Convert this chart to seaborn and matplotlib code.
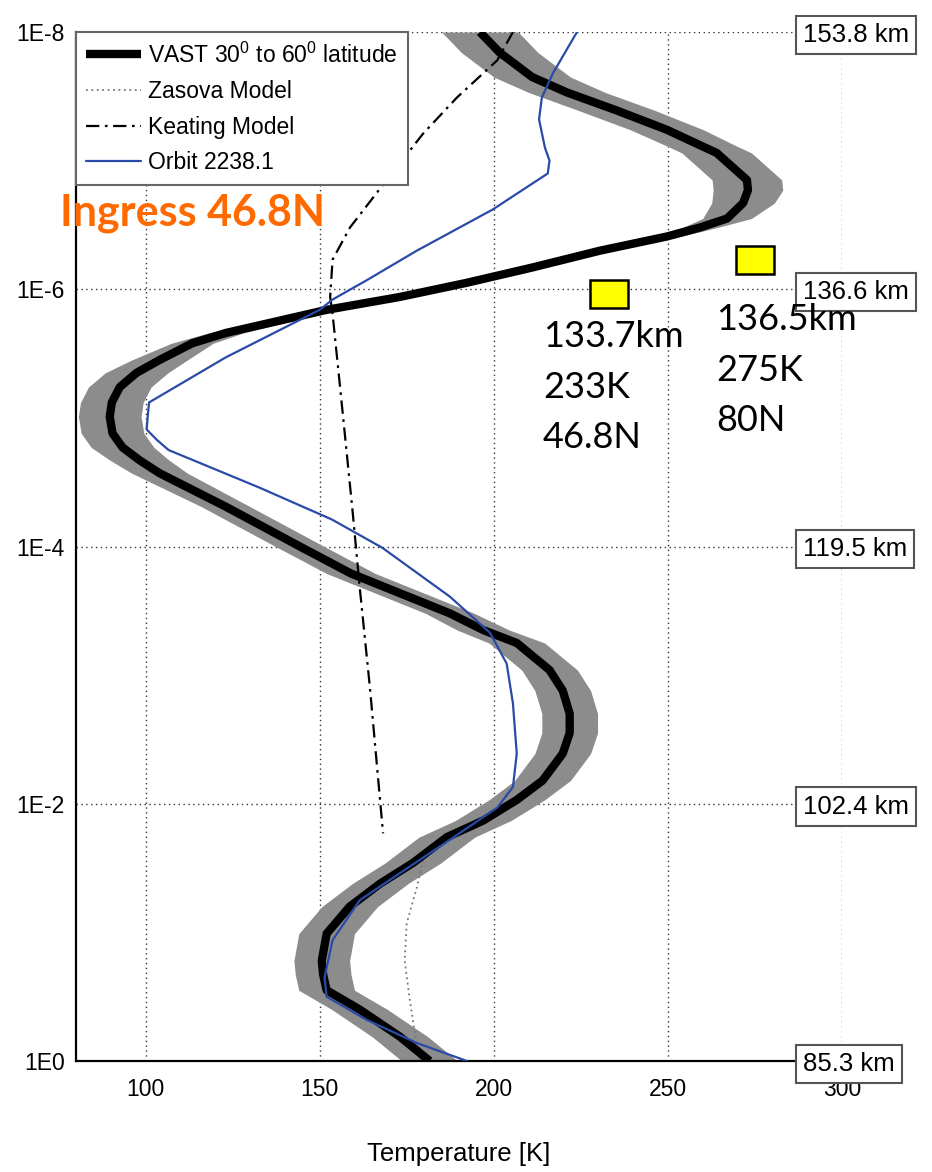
import matplotlib
matplotlib.use("Agg")
import numpy as np
import matplotlib.pyplot as plt
import seaborn as sns
from matplotlib.patches import Rectangle
from matplotlib.transforms import offset_copy

# VAST mean profile (30-60 deg latitude): log10 pressure, temperature [K], 1-sigma spread [K]
vast_logp = [-8.00, -7.84, -7.65, -7.53, -7.39, -7.24, -7.12, -7.06, -6.85, -6.77,
             -6.67, -6.55, -6.48, -6.41, -6.30, -6.17, -6.05, -5.94, -5.84, -5.66,
             -5.58, -5.45, -5.35, -5.24, -5.12, -5.01, -4.88, -4.77, -4.67, -4.57,
             -4.31, -4.15, -3.99, -3.79, -3.48, -3.35, -3.25, -3.04, -2.88, -2.70,
             -2.55, -2.39, -2.18, -2.03, -1.87, -1.74, -1.54, -1.38, -1.20, -0.99,
             -0.78, -0.67, -0.55, -0.40, -0.19, 0.00]
vast_temp = [196, 201.7, 211, 221, 235.3, 249.7, 259.2, 264, 272.7, 273,
             271.6, 267, 259.2, 249.7, 230.5, 211.2, 192.2, 173, 152, 123,
             113.4, 104, 97.4, 92.6, 90.3, 89.7, 90.5, 93.4, 98.3, 104,
             123, 134, 145, 159, 187.4, 197, 206.6, 216, 219.8, 221.8,
             221.8, 219.8, 214, 206.6, 197, 186.5, 176.8, 167.4, 158.6, 152,
             150.6, 151, 152, 161.5, 173, 181.6]
vast_sigma = [11, 11, 11, 11, 11, 10.5, 10, 10, 10, 10,
              9, 7, 5, 4, 3, 3, 3, 3, 3, 5,
              6, 8, 9, 9, 9, 9, 9, 9, 8.5, 8,
              7, 7, 7, 7, 7, 7.5, 8, 8, 8, 8,
              8, 8, 8, 8, 8, 8, 8, 8, 8, 8,
              8, 8, 8, 8, 8, 8]

# Orbit 2238.1 retrieval
orbit_logp = [-8.00, -7.68, -7.49, -7.32, -7.10, -7.00, -6.90, -6.62, -6.30, -6.07,
              -5.92, -5.84, -5.47, -5.12, -5.01, -4.91, -4.83, -4.75, -4.46, -4.21,
              -3.99, -3.61, -3.33, -3.09, -2.78, -2.39, -2.13, -1.97, -1.72, -1.46,
              -1.25, -0.94, -0.65, -0.50, -0.32, -0.14, 0.00]
orbit_temp = [223.9, 217, 213.8, 213, 214.7, 216, 215.5, 199.7, 177.9, 163.5,
              153.7, 150, 123, 101, 100.6, 100.3, 103.2, 106.6, 132.5, 153.5,
              168, 187.4, 198.9, 203.7, 205.5, 206.6, 205.5, 201, 187.4, 173,
              161.5, 153.7, 151.4, 152, 163.5, 177.9, 192.3]

# Keating model
keating_logp = [-8.0, -7.78, -7.49, -7.21, -6.75, -6.48, -6.23, -5.94, -5.81, -5.04,
                -4.26, -3.68, -2.91, -1.77]
keating_temp = [205.5, 201, 189.4, 179.7, 166.4, 158.7, 153.7, 153, 153.7, 156.6,
                159.5, 161.5, 164.4, 168.2]

# Zasova model
zasova_logp = [-1.6, -1.35, -1.07, -0.78, -0.47, -0.19, 0.0]
zasova_temp = [180, 177.9, 175, 174.4, 175.9, 177.5, 178.5]

pressure_ticks = [1e-8, 1e-6, 1e-4, 1e-2, 1e0]
pressure_tick_labels = ["1E-8", "1E-6", "1E-4", "1E-2", "1E0"]
altitude_labels = ["153.8 km", "136.6 km", "119.5 km", "102.4 km", "85.3 km"]
temp_ticks = [100, 150, 200, 250, 300]

# Single-point observations
obs_temp = [233, 275]
obs_pressure = [1.09e-6, 5.9e-7]
obs_text = ["133.7km\n233K\n46.8N", "136.5km\n275K\n80N"]

sns.set_theme(style="white")
plt.rcParams["font.family"] = ["Liberation Sans", "DejaVu Sans"]
plt.rcParams["mathtext.fontset"] = "custom"
plt.rcParams["mathtext.rm"] = "Liberation Sans"
plt.rcParams["text.color"] = "black"
plt.rcParams["axes.labelcolor"] = "black"

fig = plt.figure(figsize=(9.32, 11.72), dpi=100)
ax = fig.add_axes([0.0815, 0.0947, 0.8219, 0.878])
ax.set_yscale("log")

vast_p = 10.0 ** np.array(vast_logp)
vt = np.array(vast_temp)
vs = np.array(vast_sigma)
ax.fill_betweenx(vast_p, vt - vs, vt + vs, color="#8c8c8c", lw=0, zorder=2)

sns.lineplot(x=zasova_temp, y=10.0 ** np.array(zasova_logp), sort=False, estimator=None,
             ax=ax, color="#777777", lw=1.3, linestyle=(0, (1, 2)), zorder=3,
             label="Zasova Model")
sns.lineplot(x=keating_temp, y=10.0 ** np.array(keating_logp), sort=False, estimator=None,
             ax=ax, color="black", lw=1.6, linestyle=(0, (6, 2.5, 1.2, 2.5)), zorder=3,
             label="Keating Model")
sns.lineplot(x=vast_temp, y=vast_p, sort=False, estimator=None, ax=ax,
             color="black", lw=6, zorder=4, label="VAST 30$^0$ to 60$^0$ latitude",
             solid_joinstyle="round", solid_capstyle="butt")
sns.lineplot(x=orbit_temp, y=10.0 ** np.array(orbit_logp), sort=False, estimator=None,
             ax=ax, color="#2a4aa8", lw=1.6, zorder=5, label="Orbit 2238.1",
             solid_joinstyle="round")

ax.set_xlim(80, 300)
ax.set_ylim(1e0, 1e-8)
ax.set_xticks(temp_ticks)
ax.set_xticklabels([str(t) for t in temp_ticks])
ax.set_yticks(pressure_ticks)
ax.set_yticklabels(pressure_tick_labels)
ax.yaxis.set_minor_locator(matplotlib.ticker.NullLocator())
ax.tick_params(axis="both", which="major", direction="in", length=7, width=1.2,
               labelsize=16.5, colors="black", pad=8)
ax.tick_params(axis="x", pad=12)
ax.grid(True, which="major", linestyle=(0, (1, 2.5)), color="#333333", lw=1.0)
for side in ["top", "right"]:
    ax.spines[side].set_visible(False)
for side in ["left", "bottom"]:
    ax.spines[side].set_color("black")
    ax.spines[side].set_linewidth(1.6)
ax.set_xlabel("Temperature [K]", fontsize=18.5, labelpad=30, color="black")
ax.set_ylabel("")

# legend in the order of the original plot
handles, labels = ax.get_legend_handles_labels()
order = [labels.index(l) for l in ["VAST 30$^0$ to 60$^0$ latitude", "Zasova Model",
                                   "Keating Model", "Orbit 2238.1"]]
leg = ax.legend([handles[i] for i in order], [labels[i] for i in order],
                loc="upper left", bbox_to_anchor=(0, 1), borderaxespad=0,
                fontsize=16.5, frameon=True, fancybox=False, framealpha=1,
                edgecolor="#666666", handlelength=2.4, handletextpad=0.3,
                labelspacing=0.55, borderpad=0.45, labelcolor="black")
leg.get_frame().set_linewidth(1.5)
leg.set_zorder(10)

# altitude boxes on the right
box_tf = offset_copy(ax.get_yaxis_transform(), fig=fig, x=0, y=-2, units="points")
for p, lab in zip(pressure_ticks, altitude_labels):
    ax.text(0.949, p, lab, transform=box_tf, ha="left", va="center",
            fontsize=18.5, color="black", clip_on=False, zorder=12,
            bbox=dict(boxstyle="square,pad=0.28", facecolor="white",
                      edgecolor="#555555", lw=1.5))

# observation markers
for t, p in zip(obs_temp, obs_pressure):
    ax.add_patch(Rectangle((t - 5.45, p / 10 ** 0.109), 10.9, p * (10 ** 0.109 - 10 ** -0.109),
                           facecolor="#ffff00", edgecolor="black", lw=1.8, zorder=8))

ax.text(0.6097, (1061 - 387) / 1029, obs_text[0], transform=ax.transAxes, ha="left",
        va="center", fontsize=26, family="Lato", linespacing=1.65, color="black", zorder=13)
ax.text(0.8355, (1061 - 370) / 1029, obs_text[1], transform=ax.transAxes, ha="left",
        va="center", fontsize=26, family="Lato", linespacing=1.65, color="black", zorder=13)

fig.text(60 / 932, 1 - 213 / 1172, "Ingress 46.8N", ha="left", va="center",
         fontsize=31, family="Lato", fontweight="bold", color="#ff6a00")

fig.savefig("out.png", dpi=100, facecolor="white")
